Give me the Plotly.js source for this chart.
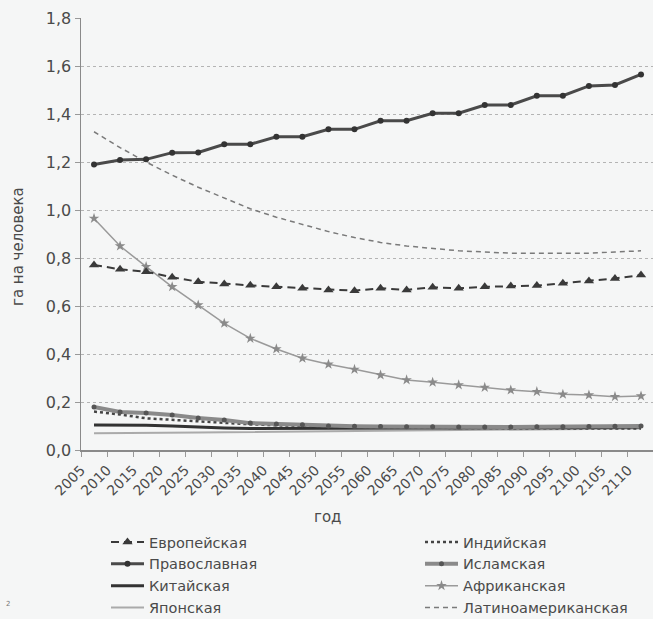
<!DOCTYPE html>
<html>
<head>
<meta charset="utf-8">
<script src="https://cdn.plot.ly/plotly-3.0.1.min.js"></script>
<style>html,body{margin:0;padding:0;background:#f5f6f6;}#chart{width:653px;height:619px;}</style>
</head>
<body>
<div id="chart"></div>
<script>
// Year labels on the x axis
const years = [2005,2010,2015,2020,2025,2030,2035,2040,2045,2050,2055,2060,2065,2070,2075,2080,2085,2090,2095,2100,2105,2110];

// Series values (га на человека)
const european = [0.771,0.753,0.743,0.72,0.701,0.692,0.686,0.68,0.674,0.667,0.664,0.674,0.667,0.678,0.674,0.68,0.683,0.685,0.695,0.704,0.715,0.729];
const orthodox = [1.19,1.208,1.211,1.239,1.24,1.274,1.274,1.305,1.305,1.336,1.336,1.372,1.372,1.403,1.403,1.4375,1.4375,1.476,1.476,1.517,1.521,1.565];
const chinese  = [0.104,0.104,0.103,0.1,0.095,0.092,0.09,0.09,0.09,0.09,0.09,0.09,0.09,0.09,0.09,0.09,0.091,0.092,0.093,0.094,0.095,0.096];
const japanese = [0.07,0.07,0.071,0.072,0.073,0.074,0.075,0.076,0.077,0.078,0.079,0.08,0.08,0.081,0.082,0.084,0.086,0.087,0.088,0.089,0.09,0.09];
const indian   = [0.16,0.148,0.132,0.125,0.118,0.112,0.107,0.103,0.1,0.098,0.096,0.094,0.093,0.092,0.092,0.091,0.091,0.09,0.09,0.09,0.09,0.09];
const islamic  = [0.179,0.158,0.154,0.146,0.133,0.125,0.112,0.108,0.105,0.1,0.099,0.098,0.097,0.097,0.096,0.096,0.096,0.097,0.097,0.098,0.099,0.1];
const african  = [0.965,0.85,0.764,0.68,0.604,0.528,0.465,0.421,0.382,0.357,0.336,0.3125,0.292,0.282,0.271,0.261,0.25,0.243,0.232,0.229,0.222,0.225];
const latin    = [1.326,1.26,1.2,1.145,1.095,1.05,1.005,0.97,0.94,0.91,0.885,0.865,0.85,0.84,0.83,0.825,0.82,0.82,0.82,0.82,0.825,0.83];

// Labels
const yTicks = [0,0.2,0.4,0.6,0.8,1.0,1.2,1.4,1.6,1.8];
const names = ["Европейская","Православная","Китайская","Японская","Индийская","Исламская","Африканская","Латиноамериканская"];

const FONT = "DejaVu Sans, Liberation Sans, Arial, sans-serif";
const TXT = "#4a4a4a";

const tickPos = years.map(y => y - 2.5);

const traces = [
  {name: names[6], y: african, legend: "legend2", legendrank: 3, mode: "lines+markers",
   line: {color: "#9a9a9a", width: 1.5}, marker: {symbol: "star", size: 8, color: "#8a8a8a"}},
  {name: names[7], y: latin, legend: "legend2", legendrank: 4, mode: "lines",
   line: {color: "#7a7a7a", width: 1.5, dash: "5px,4px"}},
  {name: names[3], y: japanese, legend: "legend", legendrank: 4, mode: "lines",
   line: {color: "#aaaaaa", width: 2}},
  {name: names[2], y: chinese, legend: "legend", legendrank: 3, mode: "lines",
   line: {color: "#333333", width: 3}},
  {name: names[4], y: indian, legend: "legend2", legendrank: 1, mode: "lines",
   line: {color: "#444444", width: 2.5, dash: "dot"}},
  {name: names[5], y: islamic, legend: "legend2", legendrank: 2, mode: "lines+markers",
   line: {color: "#8a8a8a", width: 4}, marker: {symbol: "circle", size: 5, color: "#555555"}},
  {name: names[0], y: european, legend: "legend", legendrank: 1, mode: "lines+markers",
   line: {color: "#3a3a3a", width: 2, dash: "8px,5px"}, marker: {symbol: "triangle-up", size: 9, color: "#3a3a3a"}},
  {name: names[1], y: orthodox, legend: "legend", legendrank: 2, mode: "lines+markers",
   line: {color: "#4a4a4a", width: 3}, marker: {symbol: "circle", size: 6, color: "#333333"}}
].map(t => Object.assign({x: years, type: "scatter", hoverinfo: "x+y"}, t));

const legendCommon = {
  orientation: "v", yanchor: "top", xanchor: "left", bgcolor: "rgba(0,0,0,0)",
  font: {family: FONT, size: 14.5, color: TXT}, itemwidth: 33, traceorder: "normal"
};

const layout = {
  width: 653, height: 619,
  paper_bgcolor: "#f5f6f6", plot_bgcolor: "#f5f6f6",
  margin: {l: 81, r: 0, t: 18, b: 169, autoexpand: false},
  separators: ", ",
  showlegend: true,
  font: {family: FONT, color: TXT},
  xaxis: {
    type: "linear", range: [2002.5, 2112.3],
    tickmode: "array", tickvals: tickPos, ticktext: years.map(String),
    tickangle: -45, tickfont: {family: FONT, size: 14, color: TXT},
    ticks: "outside", ticklen: 5, tickcolor: "#999", tickwidth: 1,
    showline: true, linecolor: "#8a8a8a", linewidth: 1.5,
    showgrid: false, zeroline: false
  },
  yaxis: {
    range: [0, 1.8], tickmode: "array", tickvals: yTicks, tickformat: ".1f",
    tickfont: {family: FONT, size: 16, color: TXT},
    ticks: "outside", ticklen: 5, tickcolor: "#999",
    showline: true, linecolor: "#8a8a8a", linewidth: 1.5,
    showgrid: true, gridcolor: "#b4b4b4", griddash: "dot", gridwidth: 1,
    zeroline: false
  },
  legend: Object.assign({x: (106 - 81) / 572, y: -0.176}, legendCommon),
  legend2: Object.assign({x: (420 - 81) / 572, y: -0.176}, legendCommon),
  annotations: [
    {text: "га на человека", xref: "paper", yref: "paper", x: -(81 - 18) / 572, y: (450 - 247) / 432,
     textangle: -90, xanchor: "center", yanchor: "middle", showarrow: false,
     font: {family: FONT, size: 15, color: TXT}},
    {text: "год", xref: "paper", yref: "paper", x: (327 - 81) / 572, y: -(517 - 450) / 432,
     xanchor: "center", yanchor: "middle", showarrow: false, font: {family: FONT, size: 15, color: TXT}},
    {text: "2", xref: "paper", yref: "paper", x: -(81 - 8) / 572, y: -(604 - 450) / 432,
     xanchor: "center", yanchor: "middle", showarrow: false, font: {family: FONT, size: 7, color: "#777"}}
  ]
};

Plotly.newPlot("chart", traces, layout, {displayModeBar: false, staticPlot: true});
</script>
</body>
</html>
